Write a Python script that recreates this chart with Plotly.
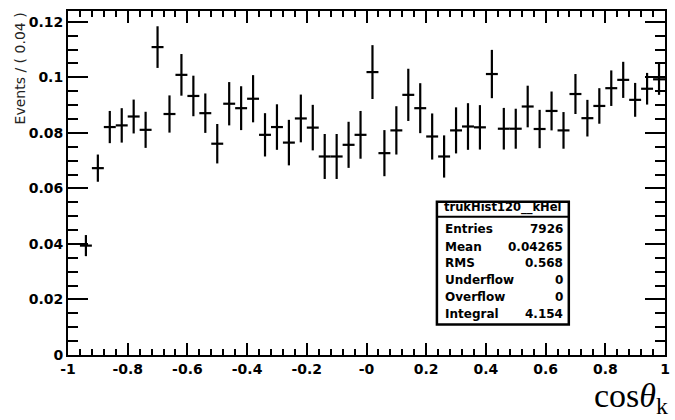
import plotly.graph_objects as go

# ---- data ----
bin_centers = [-0.98 + 0.04 * i for i in range(50)]
values = [None, 0.0394, 0.0673, 0.0821, 0.0827, 0.0859, 0.0811, 0.1109, 0.0868, 0.1009,
          0.0933, 0.0871, 0.0761, 0.0905, 0.0889, 0.0923, 0.0793, 0.0821, 0.0765, 0.0852,
          0.0819, 0.0715, 0.0715, 0.0757, 0.0793, 0.1019, 0.0727, 0.0809, 0.0937, 0.0889,
          0.0787, 0.0715, 0.0809, 0.0823, 0.0820, 0.1012, 0.0815, 0.0815, 0.0895, 0.0814,
          0.0879, 0.0809, 0.0940, 0.0853, 0.0897, 0.0961, 0.0991, 0.0919, 0.0959, 0.0993]
errors = [None, 0.0038, 0.0049, 0.0058, 0.0062, 0.0061, 0.0065, 0.0075, 0.0067, 0.0075,
          0.0073, 0.0071, 0.0071, 0.0078, 0.0079, 0.0085, 0.0078, 0.0082, 0.0082, 0.0086,
          0.0082, 0.0081, 0.0081, 0.0083, 0.0086, 0.0097, 0.0083, 0.0087, 0.0094, 0.0090,
          0.0083, 0.0076, 0.0083, 0.0084, 0.0080, 0.0087, 0.0075, 0.0072, 0.0075, 0.0069,
          0.0070, 0.0066, 0.0072, 0.0066, 0.0064, 0.0064, 0.0065, 0.0061, 0.0057, 0.0056]
bin_half_width = 0.02

x_tick_vals = [-1, -0.8, -0.6, -0.4, -0.2, 0, 0.2, 0.4, 0.6, 0.8, 1]
x_tick_text = ["-1", "-0.8", "-0.6", "-0.4", "-0.2", "-0", "0.2", "0.4", "0.6", "0.8", "1"]
y_tick_vals = [0, 0.02, 0.04, 0.06, 0.08, 0.1, 0.12]
y_tick_text = ["0", "0.02", "0.04", "0.06", "0.08", "0.1", "0.12"]

stats_title = "trukHist120__kHel"
stat_labels = ["Entries", "Mean", "RMS", "Underflow", "Overflow", "Integral"]
stat_values = ["7926", "0.04265", "0.568", "0", "0", "4.154"]

y_title = "Events / ( 0.04 )"
x_title = "cos<i>θ</i><sub>k</sub>"

# ---- figure ----
W, H = 675, 420
L, R, T, B = 68, 5, 11, 64.5
pw, ph = W - L - R, H - T - B


def px(xp):
    return (xp - L) / pw


def py(yp):
    return (H - B - yp) / ph


fig = go.Figure()
fig.add_trace(go.Scatter(
    x=bin_centers, y=values, mode="markers",
    marker=dict(size=1, color="black"),
    error_y=dict(type="data", array=errors, visible=True, width=0, thickness=2.2, color="black"),
    error_x=dict(type="constant", value=bin_half_width, visible=True, width=0, thickness=2.2, color="black"),
    showlegend=False, hoverinfo="skip",
))

tickfont = dict(family="DejaVu Sans", size=14, color="black", weight="bold")

fig.update_xaxes(
    range=[-1, 1], tickvals=x_tick_vals, ticktext=x_tick_text,
    ticks="inside", ticklen=12, tickwidth=2, tickcolor="black",
    minor=dict(ticks="inside", ticklen=6, tickwidth=2, tickcolor="black", dtick=0.04, tick0=-1, showgrid=False),
    showline=True, linecolor="black", linewidth=2, mirror="allticks",
    showgrid=False, zeroline=False, tickfont=tickfont,
)
fig.update_yaxes(
    range=[0, 0.1239], tickvals=y_tick_vals, ticktext=y_tick_text,
    ticks="inside", ticklen=20, tickwidth=2, tickcolor="black",
    minor=dict(ticks="inside", ticklen=10, tickwidth=2, tickcolor="black", dtick=0.005, tick0=0, showgrid=False),
    showline=True, linecolor="black", linewidth=2, mirror="allticks",
    showgrid=False, zeroline=False, tickfont=tickfont,
)

annotations = []
# y title
annotations.append(dict(
    text=y_title, xref="paper", yref="paper", x=px(20), y=py(10),
    xanchor="center", yanchor="top", textangle=-90, showarrow=False,
    font=dict(family="DejaVu Sans", size=14, color="#222"),
))
# x title
annotations.append(dict(
    text=x_title, xref="paper", yref="paper", x=px(675), y=py(422),
    xanchor="right", yanchor="bottom", showarrow=False,
    font=dict(family="Liberation Serif", size=34, color="black"),
))

# stats box
bx0, bx1, by0, by1, bsep = 440, 573, 202, 325, 217
shapes = [
    dict(type="rect", xref="paper", yref="paper", x0=px(bx0), x1=px(bx1), y0=py(by1), y1=py(by0),
         line=dict(color="black", width=2.5), fillcolor="white", layer="above"),
    dict(type="line", xref="paper", yref="paper", x0=px(bx0), x1=px(bx1), y0=py(bsep), y1=py(bsep),
         line=dict(color="black", width=2), layer="above"),
]
statfont = dict(family="DejaVu Sans", size=12, color="black", weight="bold")
annotations.append(dict(
    text=stats_title, xref="paper", yref="paper", x=px((bx0 + bx1) / 2), y=py(208),
    xanchor="center", yanchor="middle", showarrow=False,
    font=dict(family="DejaVu Sans", size=11.5, color="black", weight="bold"),
))
row_y = [229, 247, 263.5, 280.5, 297, 314]
for lab, val, ry in zip(stat_labels, stat_values, row_y):
    annotations.append(dict(text=lab, xref="paper", yref="paper", x=px(446), y=py(ry),
                            xanchor="left", yanchor="middle", showarrow=False, font=statfont))
    annotations.append(dict(text=val, xref="paper", yref="paper", x=px(569), y=py(ry),
                            xanchor="right", yanchor="middle", showarrow=False, font=statfont))

fig.update_layout(
    width=W, height=H,
    margin=dict(l=L, r=R, t=T, b=B, pad=0),
    paper_bgcolor="white", plot_bgcolor="white",
    shapes=shapes, annotations=annotations,
)

fig.write_html("out.html")
